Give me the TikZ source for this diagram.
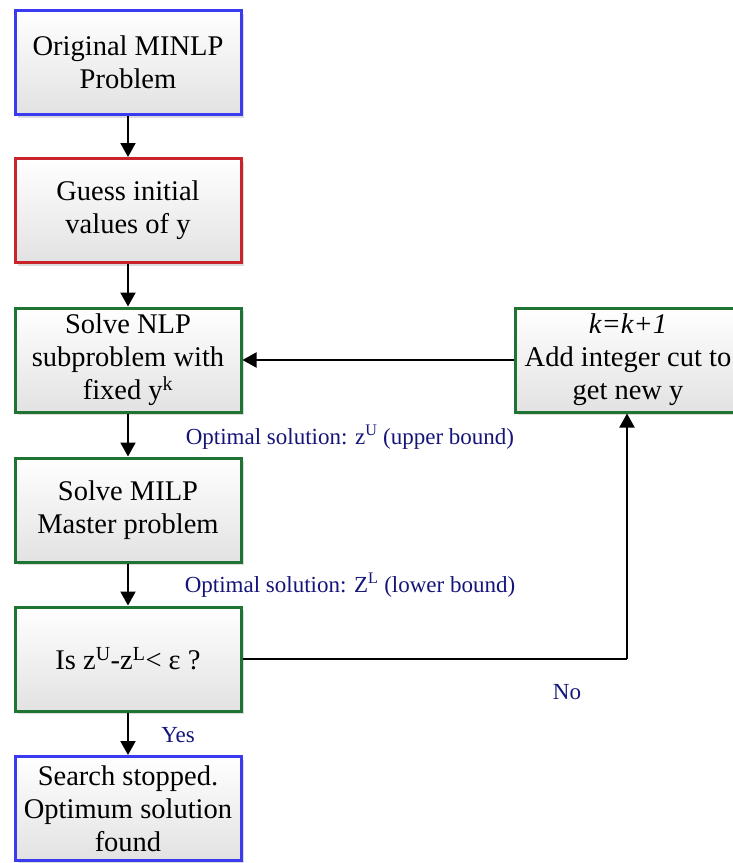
\documentclass[tikz,border=0pt]{standalone}
\usepackage{fontspec}
\setmainfont{Liberation Serif}
\usetikzlibrary{arrows.meta,shadows}
\definecolor{bblue}{HTML}{3A3AF0}
\definecolor{bred}{HTML}{C8242A}
\definecolor{bgreen}{HTML}{1F7434}
\definecolor{lblue}{HTML}{14147A}
\definecolor{gbot}{HTML}{E2E2E2}
\begin{document}
\begin{tikzpicture}[x=1pt,y=-1pt,
  box/.style={draw, line width=3pt, rectangle, minimum width=226pt, minimum height=104pt,
    top color=white, bottom color=gbot, align=center, inner sep=1pt,
    font=\fontsize{28.5}{33}\selectfont,
    drop shadow={shadow xshift=3pt, shadow yshift=-3pt, fill=black!30, opacity=0.45}},
  lbl/.style={text=lblue, font=\fontsize{23}{26}\selectfont, inner sep=0pt},
  arr/.style={line width=2pt, -{Triangle[length=14pt,width=15pt]}},
  ln/.style={line width=2pt}]
\useasboundingbox (0,0) rectangle (732,863);
\node[box, draw=bblue] (b1) at (128,62.5) {Original MINLP\\Problem};
\node[box, draw=bred] (b2) at (128,210.5) {Guess initial\\values of y};
\node[box, draw=bgreen] (b3) at (128,360) {Solve NLP\\subproblem with\\fixed y\textsuperscript{k}};
\node[box, draw=bgreen] (b4) at (128,510) {Solve MILP\\Master problem};
\node[box, draw=bgreen] (b5) at (128,659) {Is z\textsuperscript{U}-z\textsuperscript{L}< ε ?};
\node[box, draw=bblue] (b6) at (128,808.5) {Search stopped.\\Optimum solution\\found};
\node[box, draw=bgreen] (r) at (628,360) {\textit{k=k+1}\\Add integer cut to\\get new y};
\draw[arr] (b1) -- (b2);
\draw[arr] (b2) -- (b3);
\draw[arr] (b3) -- (b4);
\draw[arr] (b4) -- (b5);
\draw[arr] (b5) -- (b6);
\draw[arr] (r) -- (b3);
\coordinate (c) at (627,659);
\draw[ln] (b5.east) -- (c);
\draw[arr] (c) -- (r.south -| c);
\node[lbl] (l1) at (350,437) {Optimal solution: z\textsuperscript{U} (upper bound)};
\node[lbl] (l2) at (350,585) {Optimal solution: Z\textsuperscript{L} (lower bound)};
\node[lbl] (l3) at (567,692) {No};
\node[lbl] (l4) at (178,735) {Yes};
\end{tikzpicture}
\end{document}
